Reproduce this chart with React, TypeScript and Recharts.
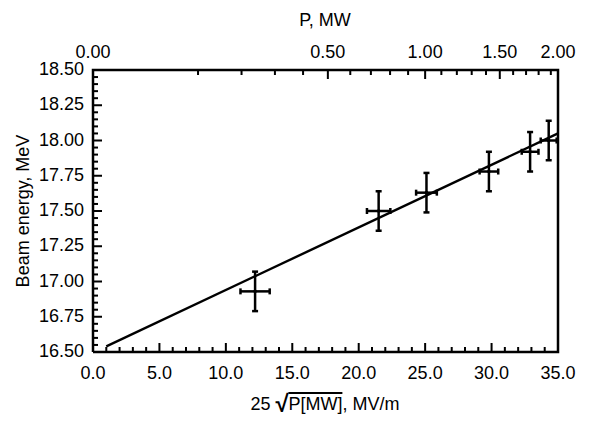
import { ScatterChart, Scatter, XAxis, YAxis } from 'recharts';

// measured points: accelerating gradient 25*sqrt(P) vs beam energy
const gradient = [12.2, 21.5, 25.1, 29.8, 32.9, 34.3];
const energy = [16.93, 17.5, 17.63, 17.78, 17.92, 18.0];
const gradientErr = [1.1, 0.88, 0.78, 0.7, 0.63, 0.6];
const energyErr = [0.14, 0.14, 0.14, 0.14, 0.14, 0.14];

// linear fit endpoints
const fitX = [1.0, 35.0];
const fitY = [16.54, 18.05];

// axis ranges and ticks
const xDomain = [0, 35];
const yDomain = [16.5, 18.5];
const xTicks = Array.from({ length: 36 }, (_, i) => i);
const yTicks = Array.from({ length: 41 }, (_, i) => Math.round((16.5 + i * 0.05) * 100) / 100);
const pTicks = Array.from({ length: 21 }, (_, i) => i / 10);

const points = gradient.map((x, i) => ({ x, y: energy[i] }));
const fit = fitX.map((x, i) => ({ x, y: fitY[i] }));
const topTicks = pTicks.map((p) => Math.min(35, 25 * Math.sqrt(p)));

// error bars as two-point segments
const hBars = gradient.map((x, i) => [
  { x: x - gradientErr[i], y: energy[i] },
  { x: x + gradientErr[i], y: energy[i] },
]);
const vBars = gradient.map((x, i) => [
  { x, y: energy[i] - energyErr[i] },
  { x, y: energy[i] + energyErr[i] },
]);

// plot frame and inward tick marks, placed through the chart scales
const frameBox = [
  { x: xDomain[0], y: yDomain[0] },
  { x: xDomain[1], y: yDomain[0] },
  { x: xDomain[1], y: yDomain[1] },
  { x: xDomain[0], y: yDomain[1] },
  { x: xDomain[0], y: yDomain[0] },
];
const bottomMarks = xTicks.map((t) => ({ x: t, y: yDomain[0], major: t % 5 === 0 }));
const topMarks = pTicks.map((p, i) => ({ x: topTicks[i], y: yDomain[1], major: Math.round(p * 10) % 5 === 0 }));
const leftMarks = yTicks.map((t) => ({ x: xDomain[0], y: t, major: Math.round(t * 100) % 25 === 0 }));

const FONT = '"Liberation Sans", Arial, Helvetica, sans-serif';
const FS = 18;
const MAJOR = 9;
const MINOR = 5;
const CAP = 3;

function BottomLabel(props: any) {
  const v = props.payload.value as number;
  if (v % 5 !== 0) return <g />;
  return (
    <text x={props.x} y={Number(props.y) + 27} textAnchor="middle" fontSize={FS} fontFamily={FONT} fill="#000">
      {v.toFixed(1)}
    </text>
  );
}

function TopLabel(props: any) {
  const p = Math.round(Math.pow(props.payload.value / 25, 2) * 10) / 10;
  if (Math.round(p * 10) % 5 !== 0) return <g />;
  return (
    <text x={props.x} y={Number(props.y) - 12} textAnchor="middle" fontSize={FS} fontFamily={FONT} fill="#000">
      {p.toFixed(2)}
    </text>
  );
}

function LeftLabel(props: any) {
  const v = props.payload.value as number;
  if (Math.round(v * 100) % 25 !== 0) return <g />;
  return (
    <text x={Number(props.x) - 9} y={Number(props.y) + 5} textAnchor="end" fontSize={FS} fontFamily={FONT} fill="#000">
      {v.toFixed(2)}
    </text>
  );
}

const UpMark = (p: any) => {
  const len = p.payload.major ? MAJOR : MINOR;
  return <rect x={p.cx - 1} y={p.cy - len} width={2} height={len} fill="#000" />;
};
const DownMark = (p: any) => {
  const len = p.payload.major ? MAJOR : MINOR;
  return <rect x={p.cx - 1} y={p.cy} width={2} height={len} fill="#000" />;
};
const RightMark = (p: any) => {
  const len = p.payload.major ? MAJOR : MINOR;
  return <rect x={p.cx} y={p.cy - 1} width={len} height={2} fill="#000" />;
};

const VCap = (p: any) => <rect x={p.cx - 1.25} y={p.cy - CAP} width={2.5} height={CAP * 2} fill="#000" />;
const HCap = (p: any) => <rect x={p.cx - CAP} y={p.cy - 1.25} width={CAP * 2} height={2.5} fill="#000" />;
const Nothing = () => <g />;

const title: React.CSSProperties = {
  position: 'absolute',
  fontFamily: FONT,
  fontSize: FS,
  lineHeight: '20px',
  color: '#000',
  whiteSpace: 'nowrap',
};

export default function App() {
  return (
    <div style={{ position: 'relative', width: 600, height: 416 }}>
      <ScatterChart width={600} height={416} margin={{ top: 0, right: 50, bottom: 0, left: 0 }}>
        <XAxis
          xAxisId="b"
          type="number"
          dataKey="x"
          domain={xDomain}
          ticks={xTicks}
          interval={0}
          tickSize={0}
          tickMargin={0}
          tickLine={false}
          tick={(p: any) => <BottomLabel {...p} />}
          axisLine={false}
          height={72}
        />
        <XAxis
          xAxisId="t"
          orientation="top"
          type="number"
          dataKey="x"
          domain={xDomain}
          ticks={topTicks}
          interval={0}
          tickSize={0}
          tickMargin={0}
          tickLine={false}
          tick={(p: any) => <TopLabel {...p} />}
          axisLine={false}
          height={62}
        />
        <YAxis
          yAxisId="l"
          type="number"
          dataKey="y"
          domain={yDomain}
          ticks={yTicks}
          interval={0}
          tickSize={0}
          tickMargin={0}
          tickLine={false}
          tick={(p: any) => <LeftLabel {...p} />}
          axisLine={false}
          width={85}
        />
        <Scatter xAxisId="t" yAxisId="l" data={fit} shape={Nothing} isAnimationActive={false} />
        <Scatter
          xAxisId="b"
          yAxisId="l"
          data={frameBox}
          line={{ stroke: '#000', strokeWidth: 2.5 }}
          shape={Nothing}
          isAnimationActive={false}
        />
        <Scatter xAxisId="b" yAxisId="l" data={bottomMarks} shape={UpMark} isAnimationActive={false} />
        <Scatter xAxisId="b" yAxisId="l" data={topMarks} shape={DownMark} isAnimationActive={false} />
        <Scatter xAxisId="b" yAxisId="l" data={leftMarks} shape={RightMark} isAnimationActive={false} />
        <Scatter
          xAxisId="b"
          yAxisId="l"
          data={fit}
          line={{ stroke: '#000', strokeWidth: 2.4 }}
          shape={Nothing}
          isAnimationActive={false}
        />
        {hBars.map((seg, i) => (
          <Scatter
            key={`h${i}`}
            xAxisId="b"
            yAxisId="l"
            data={seg}
            line={{ stroke: '#000', strokeWidth: 2.5 }}
            shape={VCap}
            isAnimationActive={false}
          />
        ))}
        {vBars.map((seg, i) => (
          <Scatter
            key={`v${i}`}
            xAxisId="b"
            yAxisId="l"
            data={seg}
            line={{ stroke: '#000', strokeWidth: 2.5 }}
            shape={HCap}
            isAnimationActive={false}
          />
        ))}
        <Scatter
          xAxisId="b"
          yAxisId="l"
          data={points}
          shape={(p: any) => <circle cx={p.cx} cy={p.cy} r={1.8} fill="#000" />}
          isAnimationActive={false}
        />
      </ScatterChart>
      <div style={{ ...title, left: 317, top: 2, transform: 'translateX(-50%)' }}>P, MW</div>
      <div style={{ ...title, left: 317, top: 386, transform: 'translateX(-50%)' }}>
        25{' '}
        <span style={{ fontWeight: 700, fontSize: 24, verticalAlign: '-2px' }}>√</span>
        <span style={{ borderTop: '2px solid #000' }}>P[MW]</span>, MV/m
      </div>
      <div style={{ ...title, left: 15, top: 203, transform: 'translate(-50%, -50%) rotate(-90deg)' }}>
        Beam energy, MeV
      </div>
    </div>
  );
}
